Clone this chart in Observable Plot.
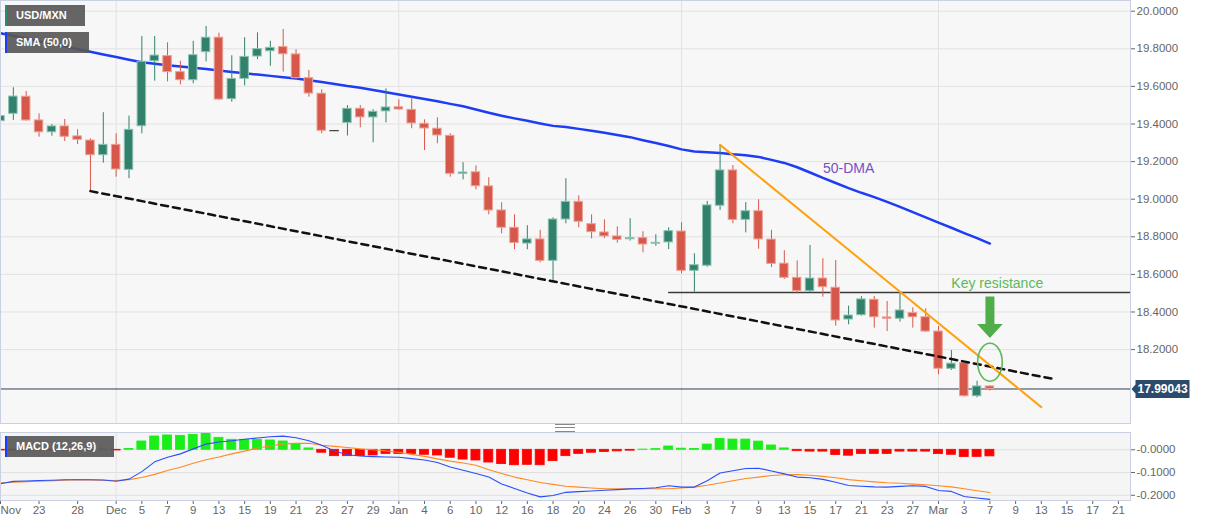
<!DOCTYPE html>
<html><head><meta charset="utf-8">
<script src="https://cdn.jsdelivr.net/npm/d3@7"></script>
<script src="https://cdn.jsdelivr.net/npm/@observablehq/plot@0.6"></script>
<style>
body{margin:0;background:#fff;font-family:"Liberation Sans",Arial,sans-serif;}
#wrap{position:relative;width:1207px;height:526px;overflow:hidden;}
#wrap svg{display:block;}
.tag{position:absolute;left:5px;height:21px;line-height:21px;background:rgba(88,88,88,0.92);color:#fff;font-weight:bold;font-size:11px;padding-left:11px;box-sizing:border-box;white-space:nowrap;}
.tag i{position:absolute;left:0;top:0;bottom:0;width:2px;}
.handle{position:absolute;left:555px;top:424px;width:20px;height:6px;border-top:1px solid #888;border-bottom:1px solid #888;}
.handle::after{content:"";position:absolute;left:0;right:0;top:2px;border-top:1px solid #888;}
</style></head>
<body>
<div id="wrap"></div>
<script>
// ---- price data (trading-day index 0 = Nov 18 ... 77 = Mar 7) ----
const open = [
19.415,19.454,19.545,19.419,19.356,19.387,19.334,19.312,19.234,19.289,
19.156,19.388,19.734,19.761,19.676,19.633,19.782,19.859,19.532,19.640,
19.759,19.787,19.809,19.770,19.644,19.561,19.362,19.406,19.481,19.435,
19.467,19.489,19.475,19.401,19.375,19.337,19.135,19.143,19.068,18.940,
18.848,18.764,18.786,18.672,18.892,18.986,18.867,18.823,18.802,18.787,
18.793,18.763,18.770,18.828,18.619,18.646,18.965,19.153,18.890,18.936,
18.785,18.657,18.582,18.511,18.578,18.529,18.360,18.383,18.465,18.371,
18.364,18.394,18.372,18.296,18.098,18.128,17.952,18.004];
const high = [
19.539,19.593,19.573,19.454,19.397,19.424,19.369,19.321,19.460,19.348,
19.442,19.865,19.865,19.832,19.734,19.840,19.919,19.883,19.763,19.859,
19.885,19.840,19.903,19.795,19.685,19.582,19.364,19.498,19.498,19.476,
19.587,19.529,19.539,19.422,19.433,19.348,19.194,19.177,19.114,18.981,
18.917,18.859,18.834,18.901,19.109,19.018,18.917,18.890,18.853,18.896,
18.827,18.811,18.848,18.875,18.710,18.988,19.289,19.179,18.982,18.997,
18.834,18.726,18.672,18.754,18.683,18.674,18.431,18.482,18.482,18.456,
18.509,18.422,18.417,18.323,18.195,18.130,18.032,18.008];
const low = [
19.387,19.419,19.415,19.330,19.335,19.307,19.291,19.043,19.192,19.117,
19.109,19.348,19.628,19.624,19.608,19.614,19.731,19.525,19.516,19.603,
19.743,19.707,19.676,19.631,19.543,19.348,19.360,19.336,19.380,19.300,
19.406,19.472,19.375,19.259,19.295,19.117,19.103,19.050,18.917,18.816,
18.731,18.731,18.662,18.559,18.869,18.848,18.789,18.791,18.766,18.777,
18.715,18.750,18.732,18.603,18.505,18.638,18.940,18.869,18.821,18.734,
18.637,18.573,18.497,18.502,18.479,18.325,18.332,18.378,18.314,18.296,
18.346,18.314,18.292,18.066,18.089,17.948,17.944,17.980];
const close = [
19.442,19.546,19.419,19.356,19.387,19.332,19.316,19.234,19.289,19.158,
19.369,19.731,19.764,19.676,19.633,19.766,19.859,19.530,19.640,19.757,
19.798,19.805,19.771,19.644,19.562,19.364,19.3615,19.481,19.435,19.465,
19.488,19.477,19.403,19.376,19.339,19.135,19.142,19.069,18.940,18.848,
18.767,18.786,18.672,18.892,18.986,18.880,18.825,18.802,18.784,18.793,
18.759,18.768,18.830,18.619,18.649,18.967,19.153,18.890,18.936,18.786,
18.656,18.582,18.512,18.578,18.532,18.355,18.381,18.467,18.372,18.364,
18.408,18.372,18.296,18.098,18.125,17.952,18.004,17.99043];
const sma50 = [
19.883,19.869,19.855,19.840,19.827,19.812,19.798,19.784,19.770,19.756,
19.742,19.728,19.720,19.713,19.706,19.699,19.692,19.685,19.677,19.670,
19.663,19.656,19.649,19.642,19.633,19.623,19.613,19.602,19.593,19.581,
19.569,19.557,19.545,19.533,19.521,19.507,19.494,19.477,19.460,19.444,
19.430,19.417,19.403,19.390,19.384,19.374,19.364,19.353,19.341,19.330,
19.314,19.299,19.283,19.265,19.254,19.250,19.246,19.239,19.234,19.225,
19.209,19.193,19.170,19.142,19.113,19.086,19.059,19.034,19.011,18.986,
18.959,18.931,18.903,18.875,18.848,18.820,18.793,18.764];

// ---- MACD (12,26,9) ----
const macdHist = [
-0.003,-0.003,-0.003,-0.003,-0.003,-0.003,-0.003,-0.003,0.002,-0.003,
0.004,0.0365,0.0585,0.063,0.0615,0.066,0.0716,0.0527,0.044,0.044,
0.044,0.041,0.0365,0.026,0.006,-0.013,-0.028,-0.028,-0.028,-0.025,
-0.018,-0.018,-0.018,-0.022,-0.025,-0.035,-0.043,-0.047,-0.056,-0.063,
-0.068,-0.066,-0.068,-0.050,-0.028,-0.018,-0.013,-0.010,-0.007,-0.004,
0.001,0.003,0.0145,0.005,0.004,0.023,0.048,0.045,0.045,0.036,
0.019,0.006,-0.006,-0.008,-0.008,-0.023,-0.026,-0.018,-0.018,-0.018,
-0.008,-0.008,-0.008,-0.019,-0.022,-0.032,-0.031,-0.029];
const macdLine = [
-0.149,-0.139,-0.137,-0.135,-0.134,-0.132,-0.132,-0.132,-0.133,-0.138,
-0.129,-0.096,-0.053,-0.033,-0.018,0.004,0.025,0.034,0.040,0.046,
0.052,0.057,0.060,0.053,0.040,0.020,-0.005,-0.022,-0.027,-0.030,
-0.032,-0.033,-0.039,-0.045,-0.056,-0.076,-0.090,-0.104,-0.120,-0.150,
-0.170,-0.190,-0.207,-0.201,-0.187,-0.184,-0.181,-0.178,-0.175,-0.172,
-0.170,-0.167,-0.158,-0.164,-0.164,-0.136,-0.102,-0.092,-0.082,-0.081,
-0.093,-0.106,-0.120,-0.123,-0.130,-0.143,-0.157,-0.160,-0.163,-0.164,
-0.161,-0.158,-0.161,-0.179,-0.183,-0.205,-0.212,-0.218];
const signalLine = [
-0.145,-0.143,-0.140,-0.138,-0.136,-0.134,-0.132,-0.133,-0.134,-0.135,
-0.131,-0.122,-0.108,-0.091,-0.077,-0.059,-0.044,-0.032,-0.018,-0.006,
0.008,0.017,0.026,0.028,0.029,0.020,0.015,0.010,0.004,0.000,
-0.005,-0.011,-0.020,-0.029,-0.040,-0.050,-0.058,-0.068,-0.088,-0.104,
-0.120,-0.132,-0.144,-0.152,-0.160,-0.164,-0.168,-0.171,-0.171,-0.171,
-0.171,-0.171,-0.171,-0.168,-0.164,-0.156,-0.146,-0.136,-0.126,-0.120,
-0.113,-0.110,-0.109,-0.112,-0.117,-0.123,-0.131,-0.136,-0.141,-0.145,
-0.147,-0.151,-0.154,-0.158,-0.163,-0.171,-0.180,-0.188];

// ---- axis ticks ----
const xTickIndex = [0,3,6,9,11,13,15,17,19,21,23,25,27,29,31,33,35,37,39,41,43,45,47,49,51,53,55,57,59,61,63,65,67,69,71,73,75,77,79,81,83,85,87];
const xTickLabels = ["Nov","23","28","Dec","5","7","9","13","15","19","21","23","27","29","Jan","4","6","10","12","16","18","20","24","26","30","Feb","3","7","9","13","15","17","21","23","27","Mar","3","7","9","13","15","17","21"];
const monthStartIndex = [9,31,53,73];
const priceTicks = [18.2,18.4,18.6,18.8,19.0,19.2,19.4,19.6,19.8,20.0];
const macdTicks = [0,-0.1,-0.2];

// ---- annotations (index, price) ----
const supportLine = [{i:7,p:19.043},{i:82,p:18.043}];
const resistLine = [{i:56,p:19.289},{i:81,p:17.894}];
const keyLevel = [{i:52,p:18.504},{i:87.94,p:18.504}];
const ellipseAt = [{i:77,p:18.133}];
const arrowAt = [{i:77,p:18.482}];
const textNotes = [{i:66,p:19.164,t:"50-DMA",c:"#7650c6"},{i:77.57,p:18.551,t:"Key resistance",c:"#5cb85c"}];

// ---- build ----
const W = 1207, X_MAX = 87.94;
const font = '"Liberation Sans", Arial, sans-serif';
const candles = open.map((o,i)=>({i,o,h:high[i],l:low[i],c:close[i]}));
const body = d => Math.abs(d.c-d.o) < 0.001 ? "#333" : d.c > d.o ? "#31816c" : "#d6584a";
const edge = d => Math.abs(d.c-d.o) < 0.001 ? "#333" : d.c > d.o ? "#8cc3b2" : "#ee9f93";
const smaRows = sma50.map((v,i)=>({i,v}));
const last = close[close.length-1];

const ellipseSym = {draw(ctx){const rx=12.3, ry=19, k=0.5523;
  ctx.moveTo(rx,0);
  ctx.bezierCurveTo(rx,ry*k,rx*k,ry,0,ry);
  ctx.bezierCurveTo(-rx*k,ry,-rx,ry*k,-rx,0);
  ctx.bezierCurveTo(-rx,-ry*k,-rx*k,-ry,0,-ry);
  ctx.bezierCurveTo(rx*k,-ry,rx,-ry*k,rx,0);
  ctx.closePath();}};
const arrowSym = {draw(ctx){
  ctx.moveTo(-4.5,0); ctx.lineTo(4.5,0); ctx.lineTo(4.5,27.3); ctx.lineTo(12.8,27.3);
  ctx.lineTo(0,41.3); ctx.lineTo(-12.8,27.3); ctx.lineTo(-4.5,27.3); ctx.closePath();}};
const labelSym = {draw(ctx){
  ctx.moveTo(1,0); ctx.lineTo(5,-4.5); ctx.lineTo(5,-9); ctx.lineTo(59,-9);
  ctx.lineTo(59,9); ctx.lineTo(5,9); ctx.lineTo(5,4.5); ctx.closePath();}};

const main = Plot.plot({
  width: W, height: 424, marginLeft: 0, marginRight: 77, marginTop: 0, marginBottom: 1,
  style: {background: "#fff", color: "#666", fontSize: "11.5px", fontFamily: font},
  x: {domain: [0, X_MAX], axis: null},
  y: {domain: [17.8069, 20.0569], axis: "right", ticks: priceTicks, tickFormat: d => d.toFixed(4), tickSize: 4, tickPadding: 2, label: null},
  marks: [
    Plot.frame({fill: "#f7f7f7", stroke: null}),
    Plot.ruleY(priceTicks, {stroke: "#e2e2e2"}),
    Plot.ruleX(monthStartIndex, {stroke: "#e2e2e2"}),
    Plot.ruleY([last], {stroke: "#2d3e57", strokeWidth: 1}),
    Plot.line(keyLevel, {x: "i", y: "p", stroke: "#3a3a3a", strokeWidth: 1.4}),
    Plot.line(smaRows, {x: "i", y: "v", stroke: "#1d3cf4", strokeWidth: 2.5}),
    Plot.ruleX(candles, {x: "i", y1: "l", y2: "h", stroke: body, strokeWidth: 1}),
    Plot.rect(candles, {x1: d => d.i - 0.33, x2: d => d.i + 0.33, y1: "o", y2: "c", fill: body, stroke: edge, strokeWidth: 1}),
    Plot.line(supportLine, {x: "i", y: "p", stroke: "#111", strokeWidth: 2.5, strokeDasharray: "7,5"}),
    Plot.line(resistLine, {x: "i", y: "p", stroke: "#ffa20f", strokeWidth: 2}),
    Plot.dot(ellipseAt, {x: "i", y: "p", symbol: ellipseSym, fill: "none", stroke: "#5cb85c", strokeWidth: 1.6}),
    Plot.dot(arrowAt, {x: "i", y: "p", symbol: arrowSym, fill: "#4fae4a", stroke: "none"}),
    Plot.text(textNotes, {x: "i", y: "p", text: "t", fill: "c", fontSize: 14}),
    Plot.frame({stroke: "#c9d0e2"}),
    Plot.dot([last], {y: d => d, frameAnchor: "right", symbol: labelSym, fill: "#2c4a6c", stroke: "none"}),
    Plot.text([last], {y: d => d, frameAnchor: "right", dx: 7, textAnchor: "start", text: d => d.toFixed(5), fill: "#fff", fontWeight: "bold", fontSize: 12})
  ]
});

const histRows = macdHist.map((v,i)=>({i,v}));
const histCol = d => d.v >= 0 ? "#19ee19" : "#ff0000";
const ticks = xTickIndex.map((i,k)=>({i, t: xTickLabels[k]}));
const macd = Plot.plot({
  width: W, height: 102, marginLeft: 0, marginRight: 77, marginTop: 8, marginBottom: 26,
  style: {background: "#fff", color: "#666", fontSize: "11.5px", fontFamily: font},
  x: {domain: [0, X_MAX], ticks: xTickIndex, tickFormat: () => "", tickSize: 4, label: null},
  y: {domain: [-0.2229, 0.076], axis: "right", ticks: macdTicks, tickFormat: d => "-" + Math.abs(d).toFixed(4), tickSize: 4, tickPadding: 2, label: null},
  marks: [
    Plot.frame({fill: "#f5f5f5", stroke: null}),
    Plot.ruleY(macdTicks, {stroke: "#e0e0e0"}),
    Plot.ruleX(monthStartIndex, {stroke: "#e2e2e2"}),
    Plot.rect(histRows, {x1: d => d.i - 0.35, x2: d => d.i + 0.35, y1: 0, y2: "v", fill: histCol, stroke: histCol, strokeWidth: 0.8}),
    Plot.line(signalLine.map((v,i)=>({i,v})), {x: "i", y: "v", stroke: "#ff8a24", strokeWidth: 1.1}),
    Plot.line(macdLine.map((v,i)=>({i,v})), {x: "i", y: "v", stroke: "#2a4dff", strokeWidth: 1.1}),
    Plot.frame({stroke: "#c9d0e2"}),
    Plot.text(ticks.slice(0,1), {x: "i", text: "t", frameAnchor: "bottom", dy: 13, textAnchor: "start", fill: "#666"}),
    Plot.text(ticks.slice(1), {x: "i", text: "t", frameAnchor: "bottom", dy: 13, fill: "#666"})
  ]
});

const wrap = document.getElementById("wrap");
wrap.appendChild(main);
wrap.appendChild(macd);
function tag(text, top, width, color){
  const d = document.createElement("div");
  d.className = "tag"; d.style.top = top + "px"; d.style.width = width + "px";
  d.innerHTML = `<i style="background:${color}"></i>` + text;
  wrap.appendChild(d);
}
tag("USD/MXN", 5, 80, "#2e8a6c");
tag("SMA (50,0)", 32, 84, "#1d3cf4");
tag("MACD (12,26,9)", 436, 109, "#1d3cf4");
const h = document.createElement("div"); h.className = "handle"; wrap.appendChild(h);
</script>
</body></html>
